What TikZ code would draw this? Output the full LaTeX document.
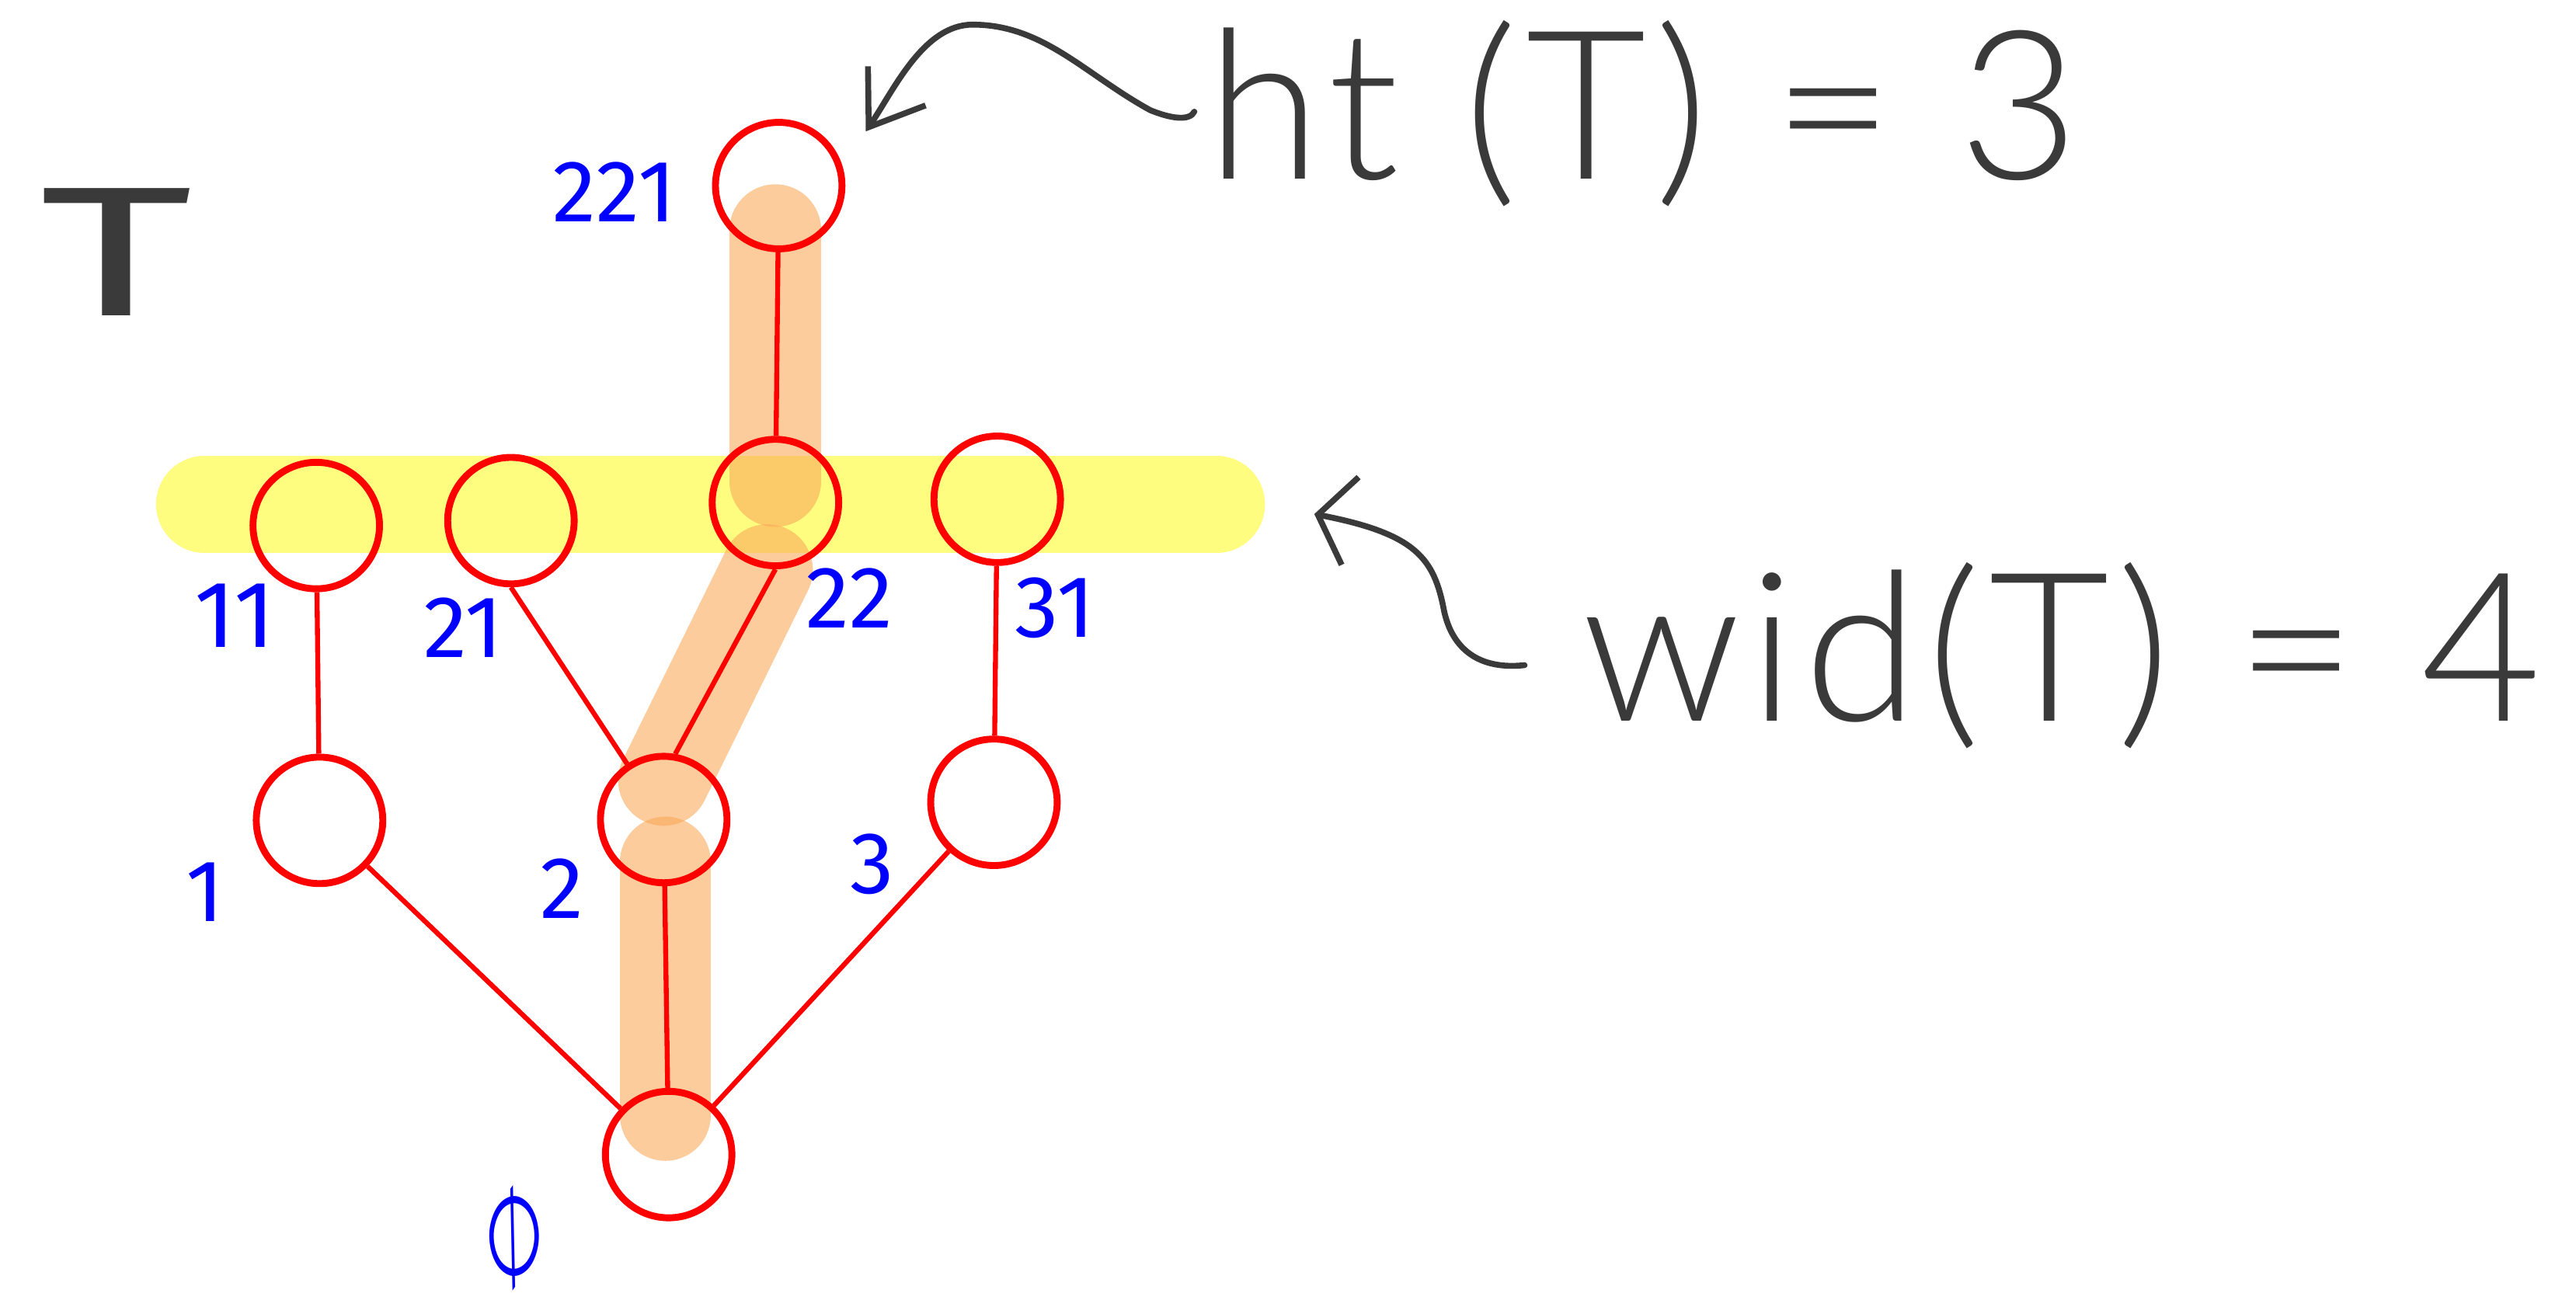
\documentclass[tikz,border=0pt]{standalone}
\usepackage{fontspec}
\setmainfont{Fira Sans}
\IfFontExistsTF{Lato Light}{\newfontfamily\lightfont{Lato Light}}{\newfontfamily\lightfont{Fira Sans}}
\newfontfamily\symfont{DejaVu Sans}
\usetikzlibrary{arrows.meta}
\definecolor{hlyellow}{RGB}{255,253,128}
\definecolor{hlorange}{RGB}{250,170,90}
\definecolor{treered}{RGB}{255,0,0}
\definecolor{labelblue}{RGB}{0,0,255}
\definecolor{ink}{RGB}{58,58,58}
\begin{document}
\begin{tikzpicture}[x=0.25mm,y=-0.25mm,
  treenode/.style={circle,draw=treered,line width=1.05mm,minimum size=19.25mm,inner sep=0pt},
  edge/.style={draw=treered,line width=0.75mm},
  lbl/.style={text=labelblue,font=\fontsize{38}{38}\selectfont,inner sep=0pt},
  bigtext/.style={text=ink,inner sep=0pt},
  hly/.style={line width=14.75mm,line cap=round,draw=hlyellow},
  hlo/.style={line width=13.9mm,line cap=round,draw=hlorange,draw opacity=0.6},
  note/.style={draw=ink,line width=0.9mm,line cap=round,line join=round}
]
\useasboundingbox[fill=white] (0,0) rectangle (1568,800);

% highlights
\draw[hly] (124.5,307) -- (740.5,307);
\draw[hlo] (472,140) -- (472,293);
\draw[hlo] (467,347) -- (404,475);
\draw[hlo] (405,525) -- (405,679);

% tree nodes
\node[treenode] (r) at (407,703) {};
\node[treenode] (n1) at (194.5,499.5) {};
\node[treenode] (n2) at (404,499) {};
\node[treenode] (n3) at (605,488.5) {};
\node[treenode] (n11) at (192.5,320) {};
\node[treenode] (n21) at (311,317) {};
\node[treenode] (n22) at (472,306) {};
\node[treenode] (n31) at (607,304) {};
\node[treenode] (n221) at (474,113) {};

% edges
\draw[edge] (r) -- (n1);
\draw[edge] (r) -- (n2);
\draw[edge] (r) -- (n3);
\draw[edge] (n1) -- (n11);
\draw[edge] (n21.south) -- (n2);
\draw[edge] (n22.south) -- (n2.80);
\draw[edge] (n3) -- (n31);
\draw[edge] (n22) -- (n221);

% labels
\node[lbl] (lr) at (313,753) {\symfont\fontsize{48}{48}\selectfont\scalebox{0.62}[1]{\rotatebox{41}{∅}}};
\node[lbl] (l1) at (125,543) {1};
\node[lbl] (l2) at (342,541) {2};
\node[lbl] (l3) at (531,526) {3};
\node[lbl,font=\fontsize{41}{41}\selectfont] (l11) at (143,375) {11};
\node[lbl] (l21) at (282,382) {21};
\node[lbl] (l22) at (517,364) {22};
\node[lbl] (l31) at (642,370) {31};
\node[lbl] (l221) at (374,117) {221};

% annotations
\node[bigtext,font=\fontsize{80}{80}\selectfont,anchor=base] (tname) at (71,192) {\scalebox{1.6}[1]{T}};
\node[bigtext,font=\lightfont\fontsize{90}{90}\selectfont,anchor=base] (ht) at (1000,109) {\addfontfeature{LetterSpace=4}ht (T) = 3};
\node[bigtext,font=\lightfont\fontsize{90}{90}\selectfont,anchor=base] (wid) at (1255,439) {\addfontfeature{LetterSpace=4}wid(T) = 4};

\coordinate (hts) at (727,68);
\coordinate (htt) at (527,80);
\draw[note,-{Straight Barb[length=7.6mm,width=10.6mm]}] (hts) .. controls (724,74) and (712,72) .. (700,67)
  .. controls (660,45) and (635,15) .. (592,15) .. controls (562,15) and (544,55) .. (htt);

\coordinate (wids) at (928,405);
\coordinate (widt) at (800,313);
\draw[note,-{Straight Barb[length=5mm,width=13.6mm]}] (wids) .. controls (900,408) and (884,395) .. (879,372)
  .. controls (873,340) and (862,325) .. (widt);
\end{tikzpicture}
\end{document}
